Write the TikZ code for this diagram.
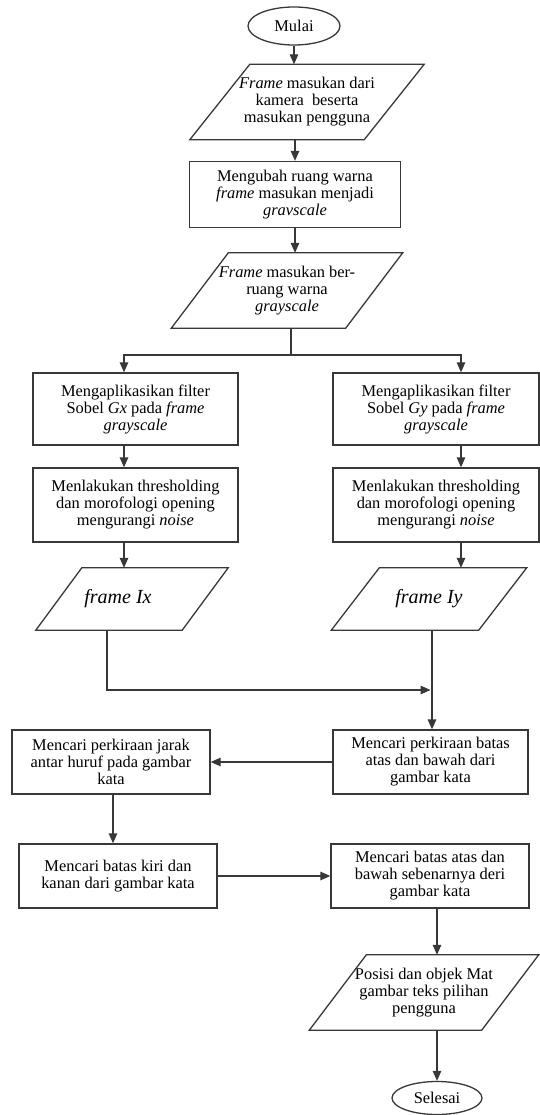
\documentclass[tikz,border=0pt]{standalone}
\usepackage{fontspec}
\setmainfont{Liberation Serif}
\usetikzlibrary{arrows.meta,shapes.geometric,calc}
\definecolor{linecol}{HTML}{383838}
\newcommand\fs{\fontsize{16.4}{17}\selectfont}
\newcommand\fb{\fontsize{20}{22}\selectfont}
\begin{document}
\begin{tikzpicture}[x=1pt,y=-1pt,
  ln/.style={draw=linecol, line width=1.3pt},
  arr/.style={ln, -{Triangle[length=10pt,width=8.5pt]}},
  box/.style={draw=linecol, line width=1.3pt, rectangle, align=center, inner sep=0pt, font=\fs},
  io/.style={rectangle, align=center, inner sep=0pt, font=\fs},
  term/.style={ellipse, draw=linecol, line width=1.3pt, inner sep=0pt, font=\fs}]
\useasboundingbox (0,0) rectangle (540,1115);

% nodes
\node[term, minimum width=92pt, minimum height=38pt] (mulai) at (294,26) {Mulai};
\node[io, minimum width=174pt, minimum height=75pt] (p1) at (307,102)
  {\textit{Frame} masukan dari\\kamera\ \ beserta\\masukan pengguna};
\node[box, minimum width=211pt, minimum height=66pt] (r1) at (295,194.5)
  {Mengubah ruang warna\\\textit{frame} masukan menjadi\\\textit{gravscale}};
\node[io, minimum width=174pt, minimum height=75pt] (p2) at (287,290.5)
  {\textit{Frame} masukan ber-\\ruang warna\\\textit{grayscale}};
\node[box, minimum width=205pt, minimum height=72pt] (a1) at (135.5,409)
  {Mengaplikasikan filter\\Sobel \textit{Gx} pada \textit{frame}\\\textit{grayscale}};
\node[box, minimum width=206pt, minimum height=72pt] (b1) at (436,409)
  {Mengaplikasikan filter\\Sobel \textit{Gy} pada \textit{frame}\\\textit{grayscale}};
\node[box, minimum width=205pt, minimum height=74pt] (a2) at (135.5,505)
  {Menlakukan thresholding\\dan morofologi opening\\mengurangi \textit{noise}};
\node[box, minimum width=206pt, minimum height=74pt] (b2) at (436,505)
  {Menlakukan thresholding\\dan morofologi opening\\mengurangi \textit{noise}};
\node[io, font=\fb, minimum width=146pt, minimum height=62pt] (ix) at (132,599) {\textit{frame Ix}\kern28pt};
\node[io, font=\fb, minimum width=147pt, minimum height=62pt] (iy) at (429,599) {\textit{frame Iy}};
\node[box, minimum width=195pt, minimum height=64pt] (c) at (430.5,762)
  {Mencari perkiraan batas\\atas dan bawah dari\\gambar kata};
\node[box, minimum width=198pt, minimum height=64pt] (d) at (111,762)
  {Mencari perkiraan jarak\\antar huruf pada gambar\\kata};
\node[box, minimum width=198pt, minimum height=64pt] (e) at (118,876)
  {Mencari batas kiri dan\\kanan dari gambar kata};
\node[box, minimum width=198pt, minimum height=64pt] (f) at (430,876)
  {Mencari batas atas dan\\bawah sebenarnya deri\\gambar kata};
\node[io, minimum width=172pt, minimum height=75pt] (p) at (424,992.5)
  {Posisi dan objek Mat\\gambar teks pilihan\\pengguna};
\node[term, minimum width=90pt, minimum height=33pt] (selesai) at (437,1098) {Selesai};

% parallelogram outlines
\foreach \n/\s in {p1/30,p2/28.5,ix/23,iy/24,p/28.5}
  \draw[ln] ([xshift=\s pt]\n.north west) -- ([xshift=\s pt]\n.north east)
    -- ([xshift=-\s pt]\n.south east) -- ([xshift=-\s pt]\n.south west) -- cycle;

% connectors
\draw[arr] (mulai.south) -- (mulai.south |- p1.north);
\draw[arr] (p1.south -| r1.north) -- (r1.north);
\draw[arr] (r1.south) -- (r1.south |- p2.north);
\coordinate (j) at (291,355);
\draw[ln] (j |- p2.south) -- (j);
\draw[arr] (j) -| ([xshift=-11.5pt]a1.north);
\draw[arr] (j) -| ([xshift=25pt]b1.north);
\draw[arr] ([xshift=-11.5pt]a1.south) -- ([xshift=-11.5pt]a2.north);
\draw[arr] ([xshift=25pt]b1.south) -- ([xshift=25pt]b2.north);
\draw[arr] ([xshift=-11.5pt]a2.south) -- ([xshift=-11.5pt]a2.south |- ix.north);
\draw[arr] ([xshift=25pt]b2.south) -- ([xshift=25pt]b2.south |- iy.north);
\coordinate (k) at (432,690);
\draw[arr] ([xshift=-25pt]ix.south) |- ([xshift=-1.5pt]k);
\draw[arr] (iy.south -| k) -- (k |- c.north);
\draw[arr] (c.west) -- (d.east);
\draw[arr] ([xshift=2pt]d.south) -- ([xshift=2pt]d.south |- e.north);
\draw[arr] (e.east) -- (f.west);
\draw[arr] ([xshift=7pt]f.south) -- ([xshift=7pt]f.south |- p.north);
\draw[arr] (selesai.north |- p.south) -- (selesai.north);
\end{tikzpicture}
\end{document}
